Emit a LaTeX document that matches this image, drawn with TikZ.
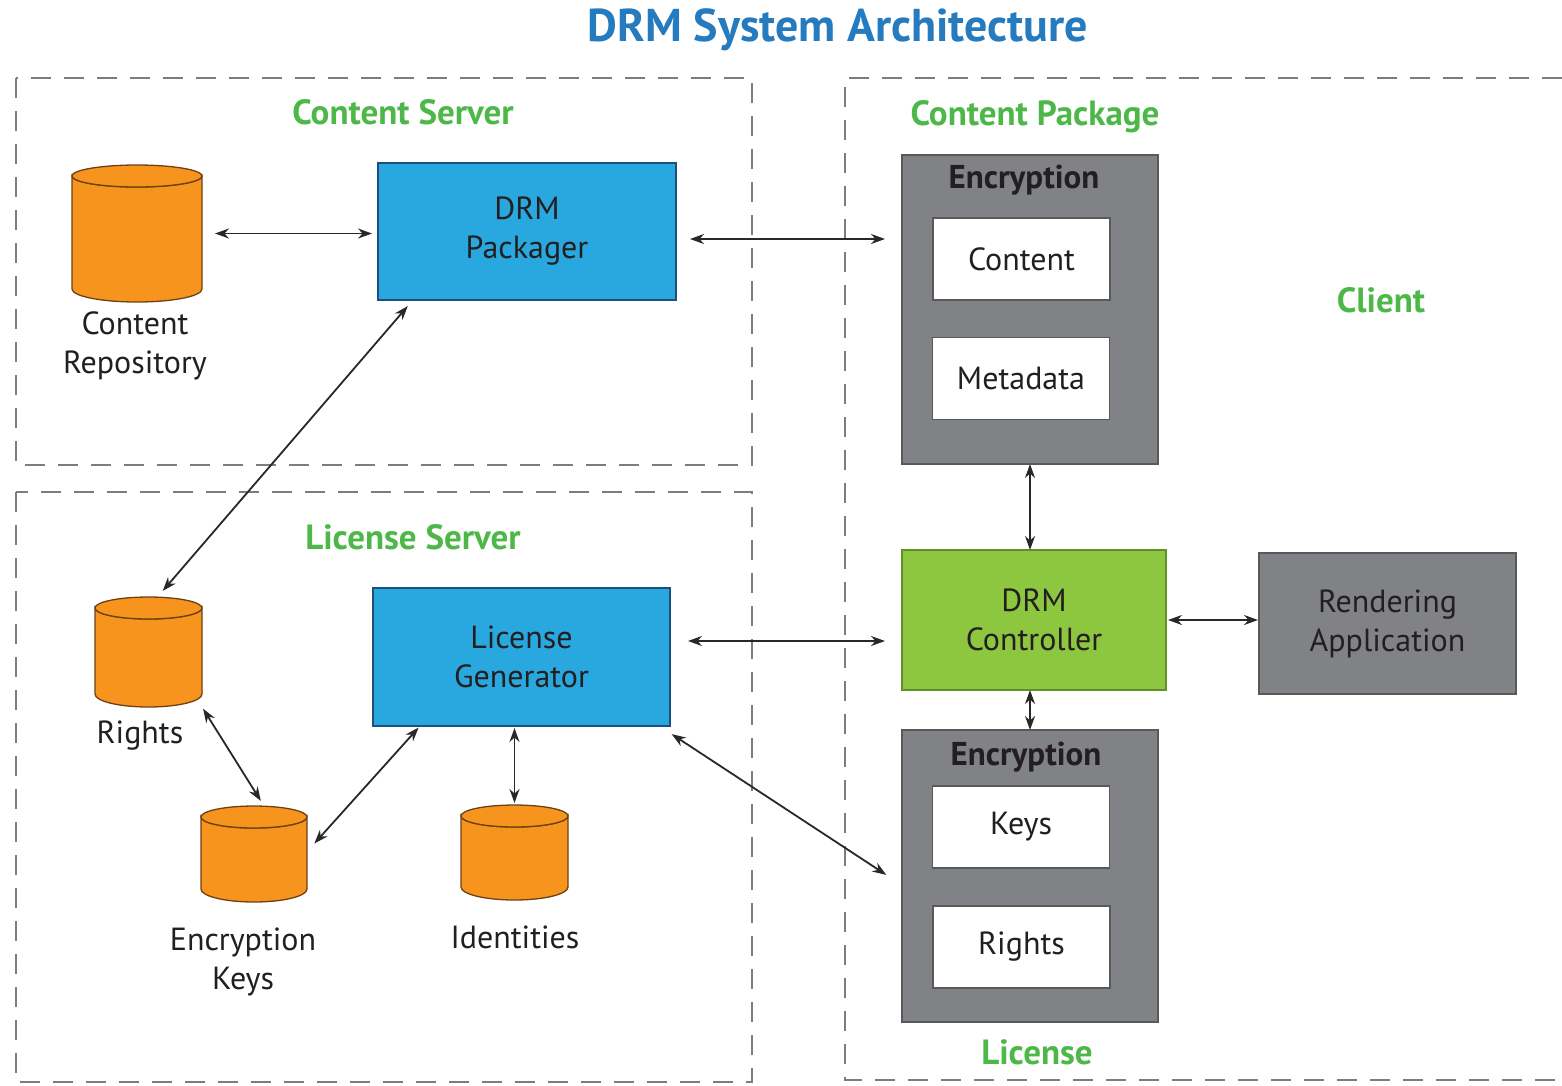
\documentclass[tikz,border=0pt]{standalone}
\usepackage{fontspec}
\setmainfont{PT Sans}
\usetikzlibrary{arrows.meta,calc}
\definecolor{titleblue}{RGB}{38,122,190}
\definecolor{lgreen}{RGB}{77,184,72}
\definecolor{bfill}{RGB}{41,168,224}
\definecolor{bborder}{RGB}{30,80,125}
\definecolor{gfill}{RGB}{141,198,63}
\definecolor{gborder}{RGB}{95,145,40}
\definecolor{grfill}{RGB}{128,130,133}
\definecolor{grborder}{RGB}{88,89,91}
\definecolor{ofill}{RGB}{247,148,29}
\definecolor{oborder}{RGB}{110,65,20}
\definecolor{dgray}{RGB}{125,125,125}
\definecolor{adark}{RGB}{40,40,40}
\definecolor{tdark}{RGB}{35,31,32}
\newcommand\drawdb[5]{%
  \pgfmathsetmacro\dbrx{(#4-#2)/2}%
  \pgfmathsetmacro\dbcx{(#4+#2)/2}%
  \pgfmathsetmacro\dbcy{(#3+#5)/2}%
  \pgfmathsetmacro\dbw{#4-#2}%
  \pgfmathsetmacro\dbh{#5-#3}%
  \draw[dbstyle] (#2,#3+11) -- (#2,#5-13) arc[start angle=180,end angle=0,x radius=\dbrx,y radius=13] -- (#4,#3+11) arc[start angle=0,end angle=180,x radius=\dbrx,y radius=11] -- cycle;
  \draw[dbstyle] (\dbcx,#3+11) ellipse[x radius=\dbrx,y radius=11];
  \node[minimum width=\dbw pt, minimum height=\dbh pt] (#1) at (\dbcx,\dbcy) {};
}
\begin{document}
\begin{tikzpicture}[x=1pt,y=-1pt,
  every node/.style={inner sep=0pt, outer sep=0pt},
  dashbox/.style={draw=dgray, line width=2pt, dash pattern=on 20pt off 13pt},
  grp/.style={text=lgreen, font=\fontsize{35}{40}\selectfont\bfseries},
  txt/.style={text=tdark, align=center, font=\fontsize{32}{39}\selectfont},
  lbl/.style={txt},
  bluebox/.style={txt, draw=bborder, fill=bfill, line width=1.5pt},
  greenbox/.style={txt, draw=gborder, fill=gfill, line width=1.5pt},
  graybox/.style={txt, draw=grborder, fill=grfill, line width=1.5pt},
  whitebox/.style={txt, draw=grborder, fill=white, line width=1.5pt, minimum width=177pt, minimum height=82pt},
  enctitle/.style={text=tdark, font=\fontsize{33}{38}\selectfont\bfseries},
  dbstyle/.style={draw=oborder, fill=ofill, line width=1.3pt},
  link/.style={draw=adark, line width=1.8pt, {Stealth[length=14pt,width=10pt]}-{Stealth[length=14pt,width=10pt]}},
]
\useasboundingbox (0,0) rectangle (1562,1085);

% title
\node[text=titleblue, font=\fontsize{46}{52}\selectfont\bfseries] (title) at (838,30) {DRM System Architecture};

% dashed regions
\draw[dashbox] (16,78) rectangle (752,465);
\draw[dashbox] (16,492) rectangle (752,1082);
\draw[dashbox] (1562,78) -- (845,78) -- (845,1080) -- (1562,1080);

% group labels
\node[grp] (gcs) at (403,112) {Content Server};
\node[grp] (gls) at (413,537) {License Server};
\node[grp] (gcp) at (1035,117) {Content Package};
\node[grp] (gcl) at (1381,300) {Client};
\node[grp] (glic) at (1037,1052) {License};

% databases
\drawdb{crepo}{72}{165}{202}{302}
\drawdb{rights}{95}{597}{202}{707}
\drawdb{ekeys}{201}{806}{307}{902}
\drawdb{ident}{461}{805}{568}{900}
\node[lbl] (lcrepo) at (135,346) {Content\\Repository};
\node[lbl] (lrights) at (140,736) {Rights};
\node[lbl] (lekeys) at (243,962) {Encryption\\Keys};
\node[lbl] (lident) at (515,937) {Identities};

% server boxes
\node[bluebox, minimum width=298pt, minimum height=137pt] (pack) at (527,231.5) {DRM\\Packager};
\node[bluebox, minimum width=297pt, minimum height=138pt] (licgen) at (521.5,657) {License\\Generator};

% content package
\node[graybox, minimum width=256pt, minimum height=309pt] (encA) at (1030,309.5) {};
\node[enctitle] (encAt) at (1024,180) {Encryption};
\node[whitebox] (cont) at (1021.5,259) {Content};
\node[whitebox] (meta) at (1021,378.5) {Metadata};

% controller & rendering
\node[greenbox, minimum width=264pt, minimum height=140pt] (ctrl) at (1034,620) {DRM\\Controller};
\node[graybox, minimum width=257pt, minimum height=141pt] (render) at (1387.5,623.5) {Rendering\\Application};

% license
\node[graybox, minimum width=256pt, minimum height=292pt] (encB) at (1030,876) {};
\node[enctitle] (encBt) at (1026,757) {Encryption};
\node[whitebox] (keys) at (1021,827) {Keys};
\node[whitebox] (lrts) at (1021.5,947) {Rights};

% connectors
\draw[link, shorten <=13pt, shorten >=6pt] (crepo.east) -- (crepo.east -| pack.west);
\draw[link, shorten <=14pt, shorten >=17pt] ([yshift=-7.5pt]pack.east) -- ([yshift=-7.5pt]pack.east -| encA.west);
\draw[link, shorten <=8pt, shorten >=8pt] ([xshift=35pt]pack.south west) -- ([xshift=9pt]rights.north);
\draw[link, shorten <=2pt, shorten >=6pt] (rights.south east) -- ([xshift=10pt]ekeys.north);
\draw[link, shorten <=2pt, shorten >=2pt] ([xshift=47pt]licgen.south west) -- ([xshift=6pt,yshift=-39pt]ekeys.north east);
\draw[link, shorten <=2pt, shorten >=2pt] (ident.north |- licgen.south) -- (ident.north);
\draw[link, shorten <=2pt, shorten >=2pt] ([yshift=-7pt]licgen.south east) -- ([xshift=-14pt]encB.west);
\draw[link, shorten <=18pt, shorten >=17pt] ([yshift=16pt]licgen.east) -- ([yshift=16pt]licgen.east -| ctrl.west);
\draw[link] (encA.south) -- (encA.south |- ctrl.north);
\draw[link] (ctrl.south -| encB.north) -- (encB.north);
\draw[link, shorten <=2pt, shorten >=1pt] (ctrl.east) -- (ctrl.east -| render.west);
\end{tikzpicture}
\end{document}
